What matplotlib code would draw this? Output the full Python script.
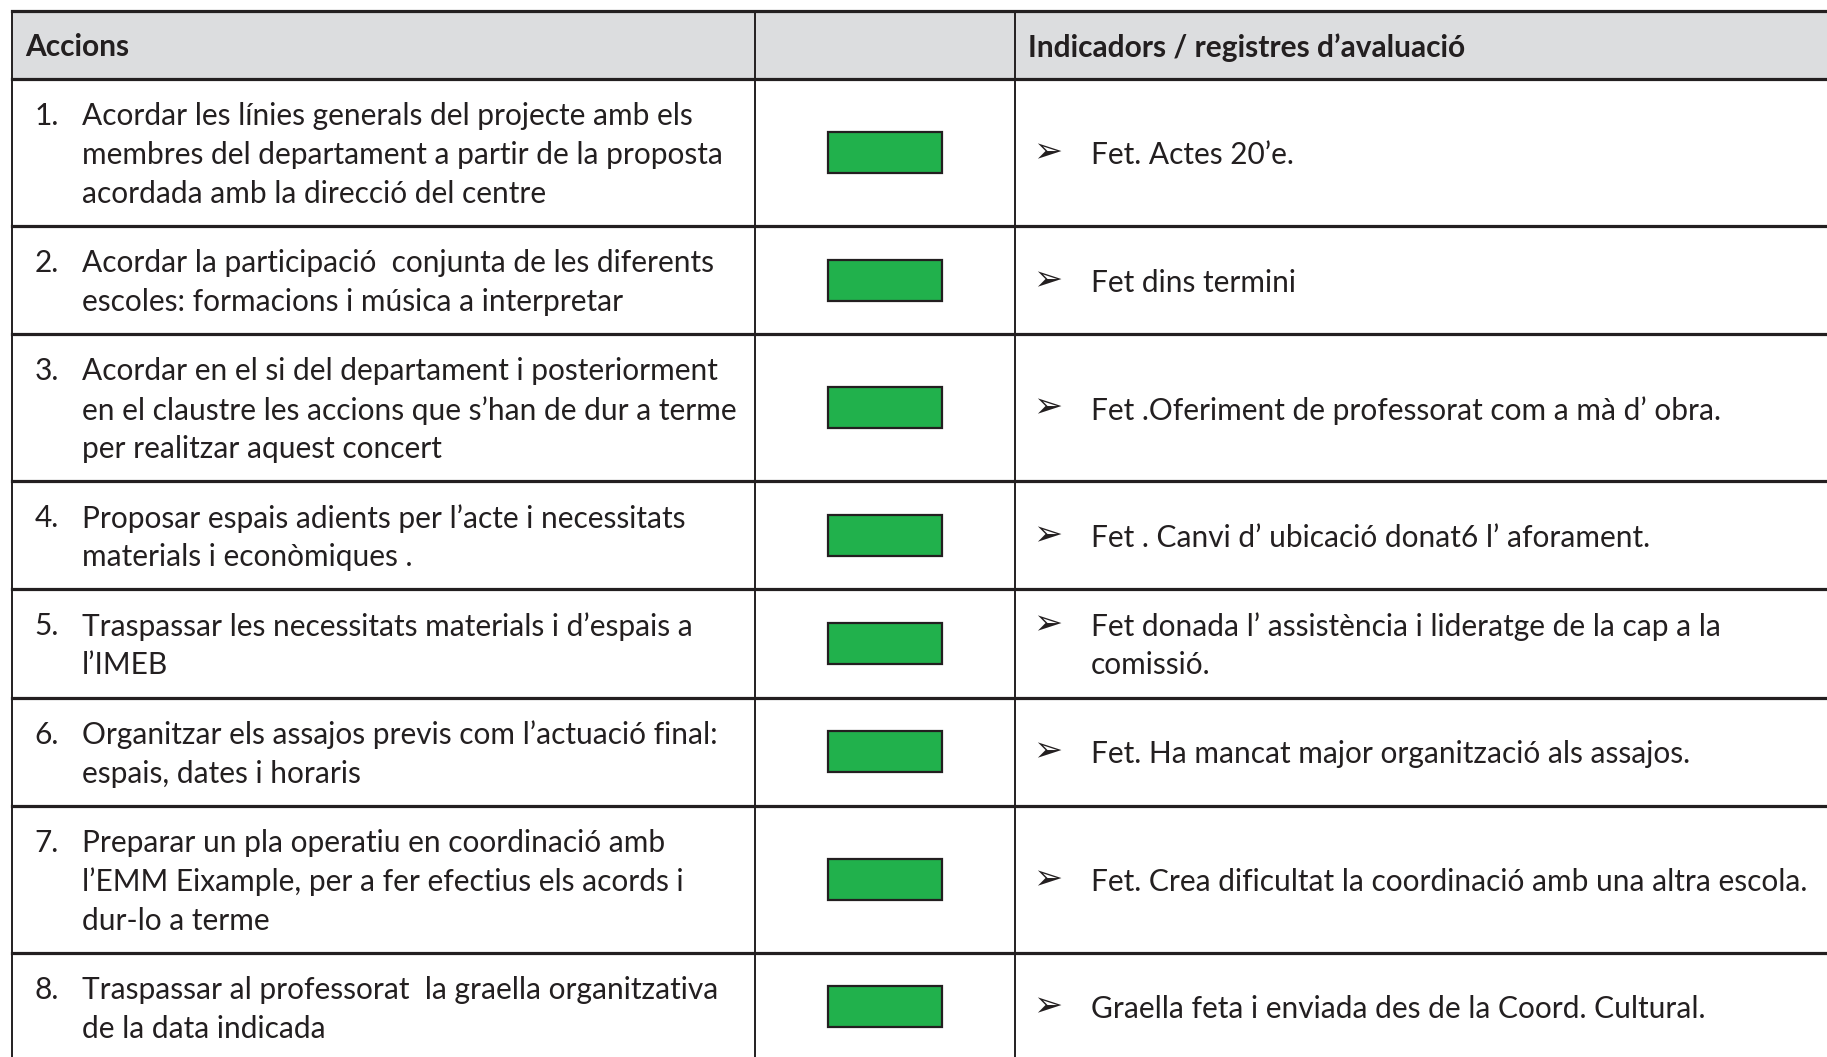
import matplotlib
matplotlib.use("Agg")
import matplotlib.pyplot as plt
from matplotlib.patches import Rectangle

# ── dades de la taula ──────────────────────────
CAPCALERES = ["Accions", "", "Indicadors / registres d\u2019avaluació"]

NUMEROS = ["1.", "2.", "3.", "4.", "5.", "6.", "7.", "8."]

ACCIONS = [
    ["Acordar les línies generals del projecte amb els",
     "membres del departament a partir de la proposta",
     "acordada amb la direcció del centre"],
    ["Acordar la participació  conjunta de les diferents",
     "escoles: formacions i música a interpretar"],
    ["Acordar en el si del departament i posteriorment",
     "en el claustre les accions que s\u2019han de dur a terme",
     "per realitzar aquest concert"],
    ["Proposar espais adients per l\u2019acte i necessitats",
     "materials i econòmiques ."],
    ["Traspassar les necessitats materials i d\u2019espais a",
     "l\u2019IMEB"],
    ["Organitzar els assajos previs com l\u2019actuació final:",
     "espais, dates i horaris"],
    ["Preparar un pla operatiu en coordinació amb",
     "l\u2019EMM Eixample, per a fer efectius els acords i",
     "dur-lo a terme"],
    ["Traspassar al professorat  la graella organitzativa",
     "de la data indicada"],
]

INDICADORS = [
    ["Fet. Actes 20\u2019e."],
    ["Fet dins termini"],
    ["Fet .Oferiment de professorat com a mà d\u2019 obra."],
    ["Fet . Canvi d\u2019 ubicació donat6 l\u2019 aforament."],
    ["Fet donada l\u2019 assistència i lideratge de la cap a la",
     "comissió."],
    ["Fet. Ha mancat major organització als assajos."],
    ["Fet. Crea dificultat la coordinació amb una altra escola."],
    ["Graella feta i enviada des de la Coord. Cultural."],
]

ESTAT = ["#21b14c"] * 8   # semàfor: totes les accions en verd

# ── geometria (píxels) ─────────────────────────
W, H = 1827, 1057
X_ESQ, X_C1, X_C2, X_DRE = 11.5, 755, 1015, W + 10
Y_TOP, ALT_CAP = 10.5, 68.5
INTERLINIA = 39.0
MARGE_FILA = 30.1
CAIXA_W, CAIXA_H = 114, 41

TINTA = "#231f20"
FONT = ["Lato", "DejaVu Sans"]
MIDA = 21.5

fig = plt.figure(figsize=(W / 100, H / 100), dpi=100)
ax = fig.add_axes([0, 0, 1, 1])
ax.set_xlim(0, W)
ax.set_ylim(H, 0)
ax.axis("off")

# capçalera
ax.add_patch(Rectangle((X_ESQ, Y_TOP), X_DRE - X_ESQ, ALT_CAP,
                       facecolor="#dcdddf", edgecolor="none", zorder=0))
yc = Y_TOP + ALT_CAP / 2
ax.text(X_ESQ + 14, yc, CAPCALERES[0], fontsize=MIDA, fontweight="bold",
        family=FONT, color=TINTA, va="center_baseline")
ax.text(X_C2 + 13, yc, CAPCALERES[2], fontsize=MIDA, fontweight="bold",
        family=FONT, color=TINTA, va="center_baseline")

# files
y = Y_TOP + ALT_CAP
vores = [Y_TOP, y]
for num, accio, indic, color in zip(NUMEROS, ACCIONS, INDICADORS, ESTAT):
    n = max(len(accio), len(indic))
    alt = n * INTERLINIA + MARGE_FILA
    yc = y + alt / 2

    y0 = yc - (len(accio) - 1) * INTERLINIA / 2
    ax.text(X_ESQ + 23, y0, num, fontsize=MIDA, family=FONT, color=TINTA,
            va="center_baseline")
    for k, linia in enumerate(accio):
        ax.text(X_ESQ + 70, y0 + k * INTERLINIA, linia, fontsize=MIDA,
                family=FONT, color=TINTA, va="center_baseline")

    ax.add_patch(Rectangle(((X_C1 + X_C2) / 2 - CAIXA_W / 2, yc - CAIXA_H / 2),
                           CAIXA_W, CAIXA_H, facecolor=color,
                           edgecolor=TINTA, linewidth=1.6, zorder=2))

    y1 = yc - (len(indic) - 1) * INTERLINIA / 2
    ax.text(X_C2 + 18, y1, "\u27a2", fontsize=25, family=["DejaVu Sans"],
            color=TINTA, va="center")
    for k, linia in enumerate(indic):
        ax.text(X_C2 + 76, y1 + k * INTERLINIA, linia, fontsize=MIDA,
                family=FONT, color=TINTA, va="center_baseline")

    y += alt
    vores.append(y)

# línies de la quadrícula
for yv in vores:
    ax.plot([X_ESQ, X_DRE], [yv, yv], color=TINTA, lw=2.3, zorder=3)
for xv in (X_ESQ, X_C1, X_C2):
    ax.plot([xv, xv], [Y_TOP, y], color=TINTA, lw=1.4, zorder=3)

fig.savefig("out.png", dpi=100)
